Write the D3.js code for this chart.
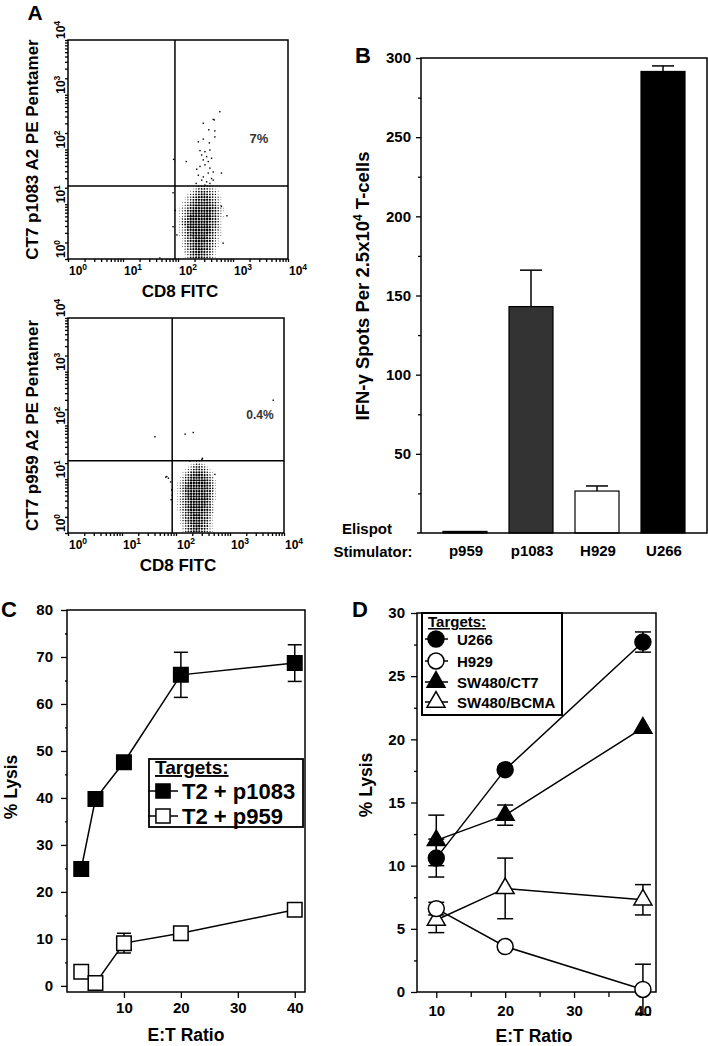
<!DOCTYPE html>
<html>
<head>
<meta charset="utf-8">
<script src="https://cdn.jsdelivr.net/npm/d3@7"></script>
<style>
body{margin:0;background:#fff}
text{font-family:"Liberation Sans",Arial,sans-serif;font-weight:bold}
</style>
</head>
<body>
<div id="fig"></div>
<script>
// ---- panel A : pentamer flow plots (log10 units) ----
const densityCols = [1.98,2.03,2.08,2.13,2.18,2.23,2.28,2.33,2.38,2.43,2.48,2.53,2.58,2.63,2.68,2.73,2.78,2.83];
const densityRows = [1.33,1.28,1.23,1.18,1.13,1.08,1.03,0.98,0.93,0.88,0.83,0.78,0.73,0.68,0.63,0.58,0.53,0.48,0.43,0.38,0.33,0.28,0.23,0.18,0.13,0.08,0.03];
const p1083Density = [
  "000000013443210000","000000124554321000","000001245665432100","000012356776543100",
  "000123567887643210","000124678898754210","001235789999865310","001246899999875320",
  "012357899999986421","012468999999986421","012468999999976420","012479999999976421",
  "013579999999976410","013589999999876410","013589999999875310","012489999999865310",
  "012478999999864310","012478999999864210","012468999998753210","001357899998753200",
  "001357899998752100","001356899987642100","001246899987642100","000246789987631000",
  "000235789876531000","000135789876421000","000125678765421000"];
const p1083Scatter = [[2.76,2.69],[2.64,2.55],[2.66,2.54],[2.46,2.48],[2.56,2.36],[2.67,2.34],[2.67,2.23],
  [2.37,2.14],[2.46,2.19],[2.57,2.12],[2.40,1.98],[2.49,1.96],[2.58,1.99],[1.92,1.82],[2.15,1.78],
  [2.43,1.90],[2.52,1.87],[2.61,1.84],[2.46,1.81],[2.55,1.78],[2.34,1.64],[2.40,1.69],[2.49,1.72],
  [2.58,1.66],[2.64,1.59],[2.79,1.57],[2.37,1.53],[2.46,1.50],[2.55,1.57],[2.61,1.47],[2.43,1.44],
  [2.52,1.41],[2.64,1.44],[2.33,1.38],[2.49,1.35],[2.58,1.38],[1.91,1.21],[1.95,0.89],[1.91,0.59],
  [1.98,0.44],[2.89,0.79],[2.82,0.29],[2.79,0.96],[1.67,0.02]];
const p959Density = [
  "000000012100000000","000000124321000000","000001245543100000","000012356654210000",
  "000123578875421000","000135789987531000","001246899998642000","001357999999753100",
  "012468999999864100","012479999999864100","012479999999864100","012479999999874100",
  "012479999999863100","012479999999863100","012468999999853100","012468999999852000",
  "012468999999752000","012468999998752000","012468999998752000","001357999998642000",
  "001357899987641000","001357899987641000","001357899987531000","001246899986531000",
  "000246789986521000","000246789876421000","000135678765321000"];
const p959Scatter = [[1.61,1.79],[2.17,1.84],[2.32,1.87],[3.80,2.47],[1.81,1.04],[2.72,1.09],
  [2.48,1.37],[2.26,1.34],[1.90,0.95],[1.92,0.80],[1.91,0.62],[1.93,0.70],[1.83,1.05],[1.86,1.02],[2.49,1.39]];
const decadeTicks = [0,1,2,3,4];

// ---- panel B : Elispot ----
const stimulators = ["p959","p1083","H929","U266"];
const spots = [1,143,26.5,291.5];
const spotsErr = [0,23,3.2,3.5];
const barColors = ["#444","#333","#fff","#000"];

// ---- panel C : lysis of T2 pulsed cells ----
const ratioC = [2.5,5,10,20,40];
const lysisP1083 = [24.9,39.8,47.6,66.2,68.7];
const errP1083 = [0,0,0,4.8,3.9];
const lysisP959 = [3.0,0.6,9.1,11.2,16.2];
const errP959 = [0,0,2.1,0,0];

// ---- panel D : lysis of tumour lines ----
const ratioD = [10,20,40];
const lysisU266 = [10.6,17.6,27.7];
const errU266 = [1.5,0,0.8];
const lysisH929 = [6.6,3.6,0.2];
const errH929 = [0.5,0,2.0];
const lysisCT7 = [12.0,14.0,20.9];
const errCT7 = [2.0,0.8,0];
const lysisBCMA = [5.7,8.2,7.3];
const errBCMA = [1.0,2.4,1.2];

const W = 708, H = 1046;
const svg = d3.select('#fig').append('svg').attr('width', W).attr('height', H);

function label(x, y, txt, size, anchor){
    return svg.append('text').attr('x', x).attr('y', y).attr('font-size', size)
        .attr('text-anchor', anchor || 'middle').text(txt);
}
function vlabel(x, y, txt, size){
    return svg.append('text').attr('transform', `translate(${x},${y}) rotate(-90)`)
        .attr('font-size', size).attr('text-anchor', 'middle').text(txt);
}
function styleAxis(sel, size){
    sel.select('.domain').remove();
    sel.selectAll('line').attr('stroke', '#000').attr('stroke-width', 1.3);
    sel.selectAll('text').style('font-size', size + 'px').attr('fill', '#000');
}

//flow plot
function flowPanel(c){
    const x = d3.scaleLog().domain([1, 1e4]).range([c.x0, c.x1]);
    const y = d3.scaleLog().domain([1, 1e4]).range([c.y1, c.y0]);
    const g = svg.append('g');

    c.density.forEach((row, ri) => {
        row.split('').forEach((ch, ci) => {
            const d = +ch;
            if (!d) return;
            g.append('circle')
                .attr('cx', x(Math.pow(10, densityCols[ci])))
                .attr('cy', y(Math.pow(10, densityRows[ri])))
                .attr('r', 1.2 * Math.sqrt(d / 9))
                .attr('fill', '#000');
        });
    });
    g.selectAll('rect.pt').data(c.scatter).enter().append('rect')
        .attr('x', d => x(Math.pow(10, d[0])) - 0.7)
        .attr('y', d => y(Math.pow(10, d[1])) - 0.7)
        .attr('width', 1.4).attr('height', 1.4).attr('fill', '#000');

    // minor log ticks
    const minor = [];
    for (let p = 0; p < 4; p++) for (let k = 1; k < 10; k++) minor.push(k * Math.pow(10, p));
    minor.push(1e4);
    g.append('g').attr('transform', `translate(0,${c.y1})`)
        .call(d3.axisBottom(x).tickValues(minor).tickSize(3).tickFormat(''))
        .call(s => styleAxis(s, 10));
    g.append('g').attr('transform', `translate(${c.x0},0)`)
        .call(d3.axisLeft(y).tickValues(minor).tickSize(3).tickFormat(''))
        .call(s => styleAxis(s, 10));

    g.append('rect').attr('x', c.x0).attr('y', c.y0)
        .attr('width', c.x1 - c.x0).attr('height', c.y1 - c.y0)
        .attr('fill', 'none').attr('stroke', '#000').attr('stroke-width', 1.5);
    g.append('line').attr('x1', x(c.gateX)).attr('x2', x(c.gateX)).attr('y1', c.y0).attr('y2', c.y1)
        .attr('stroke', '#000').attr('stroke-width', 1.5);
    g.append('line').attr('x1', c.x0).attr('x2', c.x1).attr('y1', y(c.gateY)).attr('y2', y(c.gateY))
        .attr('stroke', '#000').attr('stroke-width', 1.5);

    // decade labels with superscripts
    decadeTicks.forEach(p => {
        const t = svg.append('text').attr('x', x(Math.pow(10, p)) + 1).attr('y', c.y1 + 16)
            .attr('font-size', 12).attr('text-anchor', 'start');
        t.append('tspan').text('10');
        t.append('tspan').attr('dy', -5).attr('font-size', 8.5).text(p);
        const v = svg.append('text')
            .attr('transform', `translate(${c.x0 - 3},${y(Math.pow(10, p)) - 1}) rotate(-90)`)
            .attr('font-size', 12).attr('text-anchor', 'start');
        v.append('tspan').text('10');
        v.append('tspan').attr('dy', -5).attr('font-size', 8.5).text(p);
    });

    label((c.x0 + c.x1) / 2 + 2, c.y1 + 38, 'CD8 FITC', 17);
    vlabel(38, (c.y0 + c.y1) / 2, c.yTitle, 17);
    label(c.pctX, c.pctY, c.pct, c.pctSize).attr('fill', '#333')
        .attr('font-weight', c.pctBold ? 'bold' : 'normal');
}

flowPanel({x0: 68, x1: 288, y0: 40, y1: 259, gateX: 88, gateY: 21.5,
    density: p1083Density, scatter: p1083Scatter, yTitle: 'CT7 p1083 A2 PE Pentamer',
    pct: '7%', pctX: 259, pctY: 143, pctSize: 13, pctBold: true});
flowPanel({x0: 68, x1: 284, y0: 318, y1: 533, gateX: 85, gateY: 22,
    density: p959Density, scatter: p959Scatter, yTitle: 'CT7 p959 A2 PE Pentamer',
    pct: '0.4%', pctX: 260, pctY: 419, pctSize: 12, pctBold: false});
label(35, 20, 'A', 21);

// ---- B ----
{
    const x = d3.scaleBand().domain(stimulators).range([421, 707]).paddingInner(1/3).paddingOuter(1/3);
    const y = d3.scaleLinear().domain([0, 300]).range([533, 58]);
    const g = svg.append('g');

    g.append('g').attr('transform', 'translate(421,0)')
        .call(d3.axisLeft(y).tickValues([25,75,125,175,225,275]).tickSize(3).tickFormat(''))
        .call(s => styleAxis(s, 10));
    g.append('g').attr('transform', 'translate(421,0)')
        .call(d3.axisLeft(y).tickValues([50,100,150,200,250,300]).tickSize(5).tickPadding(5))
        .call(s => styleAxis(s, 15));

    // error bars first
    stimulators.forEach((s, i) => {
        if (!spotsErr[i]) return;
        const cx = x(s) + x.bandwidth() / 2;
        g.append('line').attr('x1', cx).attr('x2', cx).attr('y1', y(spots[i])).attr('y2', y(spots[i] + spotsErr[i]))
            .attr('stroke', '#000').attr('stroke-width', 1.5);
        g.append('line').attr('x1', cx - 11).attr('x2', cx + 11)
            .attr('y1', y(spots[i] + spotsErr[i])).attr('y2', y(spots[i] + spotsErr[i]))
            .attr('stroke', '#000').attr('stroke-width', 1.5);
    });
    g.selectAll('rect.bar').data(stimulators).enter().append('rect')
        .attr('class', 'bar')
        .attr('x', d => x(d))
        .attr('y', (d, i) => y(spots[i]))
        .attr('width', x.bandwidth())
        .attr('height', (d, i) => y(0) - y(spots[i]))
        .attr('fill', (d, i) => barColors[i])
        .attr('stroke', '#000').attr('stroke-width', 1.2);

    g.append('path').attr('d', 'M421,533V58H707V533H417')
        .attr('fill', 'none').attr('stroke', '#000').attr('stroke-width', 1.5);

    stimulators.forEach(s => label(x(s) + x.bandwidth() / 2 + 1, 556, s, 15));
    label(367, 534, 'Elispot', 15);
    label(373, 557, 'Stimulator:', 15);

    const t = svg.append('text').attr('transform', 'translate(369,286) rotate(-90)')
        .attr('font-size', 18.5).attr('text-anchor', 'middle');
    t.append('tspan').text('IFN-γ Spots Per 2.5x10');
    t.append('tspan').attr('dy', -7).attr('font-size', 12).text('4');
    t.append('tspan').attr('dy', 7).text(' T-cells');
    label(363, 63, 'B', 22);
}

// shared line-chart helpers
function errorBars(g, x, y, xs, ys, es, cap){
    xs.forEach((v, i) => {
        if (!es[i]) return;
        const cx = x(v);
        g.append('line').attr('x1', cx).attr('x2', cx)
            .attr('y1', y(ys[i] - es[i])).attr('y2', y(ys[i] + es[i]))
            .attr('stroke', '#000').attr('stroke-width', 1.5);
        [ys[i] - es[i], ys[i] + es[i]].forEach(e => {
            g.append('line').attr('x1', cx - cap).attr('x2', cx + cap).attr('y1', y(e)).attr('y2', y(e))
                .attr('stroke', '#000').attr('stroke-width', 1.5);
        });
    });
}
function series(g, x, y, xs, ys){
    g.append('path').datum(xs.map((v, i) => [v, ys[i]]))
        .attr('d', d3.line().x(d => x(d[0])).y(d => y(d[1])))
        .attr('fill', 'none').attr('stroke', '#000').attr('stroke-width', 1.5);
}
function markers(g, x, y, xs, ys, sym, size, fill){
    g.selectAll(null).data(xs).enter().append('path')
        .attr('transform', (d, i) => `translate(${x(d)},${y(ys[i])})`)
        .attr('d', d3.symbol(sym, size))
        .attr('fill', fill).attr('stroke', '#000').attr('stroke-width', 1.5);
}

// ---- C ----
{
    const x = d3.scaleLinear().domain([0, 41.8]).range([67, 305]);
    const y = d3.scaleLinear().domain([-1.3, 80]).range([992, 610]);
    const g = svg.append('g');

    g.append('g').attr('transform', 'translate(67,0)')
        .call(d3.axisLeft(y).tickValues([5,15,25,35,45,55,65,75]).tickSize(2).tickFormat(''))
        .call(s => styleAxis(s, 10));
    g.append('g').attr('transform', 'translate(67,0)')
        .call(d3.axisLeft(y).tickValues([0,10,20,30,40,50,60,70,80]).tickSize(6).tickPadding(8))
        .call(s => styleAxis(s, 15));
    g.append('g').attr('transform', 'translate(0,992)')
        .call(d3.axisBottom(x).tickValues([10,20,30,40]).tickSize(6).tickPadding(4))
        .call(s => styleAxis(s, 15));
    g.append('rect').attr('x', 67).attr('y', 610).attr('width', 238).attr('height', 382)
        .attr('fill', 'none').attr('stroke', '#000').attr('stroke-width', 1.5);

    series(g, x, y, ratioC, lysisP1083);
    series(g, x, y, ratioC, lysisP959);
    errorBars(g, x, y, ratioC, lysisP1083, errP1083, 7);
    errorBars(g, x, y, ratioC, lysisP959, errP959, 7);
    markers(g, x, y, ratioC, lysisP1083, d3.symbolSquare, 210, '#000');
    markers(g, x, y, ratioC, lysisP959, d3.symbolSquare, 210, '#fff');

    // legend
    g.append('rect').attr('x', 149).attr('y', 759).attr('width', 154).attr('height', 68)
        .attr('fill', '#fff').attr('stroke', '#000').attr('stroke-width', 1.8);
    label(155, 774, 'Targets:', 19, 'start').attr('text-decoration', 'underline');
    [[791, '#000', 'T2 + p1083'], [816, '#fff', 'T2 + p959']].forEach(r => {
        g.append('line').attr('x1', 148).attr('x2', 178).attr('y1', r[0]).attr('y2', r[0])
            .attr('stroke', '#000').attr('stroke-width', 1.5);
        g.append('path').attr('transform', `translate(163,${r[0]})`).attr('d', d3.symbol(d3.symbolSquare, 200))
            .attr('fill', r[1]).attr('stroke', '#000').attr('stroke-width', 1.5);
        label(182, r[0] + 8, r[2], 22, 'start');
    });

    label(186, 1041, 'E:T Ratio', 17.5);
    vlabel(17, 787, '% Lysis', 17.5);
    label(9, 617, 'C', 22);
}

// ---- D ----
{
    const x = d3.scaleLinear().domain([7.2, 41.9]).range([417, 656]);
    const y = d3.scaleLinear().domain([0, 30]).range([992, 613]);
    const g = svg.append('g');

    g.append('g').attr('transform', 'translate(417,0)')
        .call(d3.axisLeft(y).tickValues([2.5,7.5,12.5,17.5,22.5,27.5]).tickSize(3).tickFormat(''))
        .call(s => styleAxis(s, 10));
    g.append('g').attr('transform', 'translate(417,0)')
        .call(d3.axisLeft(y).tickValues([0,5,10,15,20,25,30]).tickSize(6).tickPadding(6))
        .call(s => styleAxis(s, 15));
    g.append('g').attr('transform', 'translate(0,992)')
        .call(d3.axisBottom(x).tickValues([15,25,35]).tickSize(5).tickFormat(''))
        .call(s => styleAxis(s, 10));
    g.append('g').attr('transform', 'translate(0,992)')
        .call(d3.axisBottom(x).tickValues([10,20,30,40]).tickSize(6).tickPadding(7))
        .call(s => styleAxis(s, 15));
    g.append('rect').attr('x', 417).attr('y', 613).attr('width', 239).attr('height', 379)
        .attr('fill', 'none').attr('stroke', '#000').attr('stroke-width', 1.5);

    [lysisU266, lysisH929, lysisCT7, lysisBCMA].forEach(s => series(g, x, y, ratioD, s));
    errorBars(g, x, y, ratioD, lysisU266, errU266, 8);
    errorBars(g, x, y, ratioD, lysisH929, errH929, 8);
    errorBars(g, x, y, ratioD, lysisCT7, errCT7, 8);
    errorBars(g, x, y, ratioD, lysisBCMA, errBCMA, 8);
    markers(g, x, y, ratioD, lysisBCMA, d3.symbolTriangle, 140, '#fff');
    markers(g, x, y, ratioD, lysisH929, d3.symbolCircle, 200, '#fff');
    markers(g, x, y, ratioD, lysisU266, d3.symbolCircle, 200, '#000');
    markers(g, x, y, ratioD, lysisCT7, d3.symbolTriangle, 140, '#000');

    // legend
    g.append('rect').attr('x', 422).attr('y', 613).attr('width', 140).attr('height', 102)
        .attr('fill', '#fff').attr('stroke', '#000').attr('stroke-width', 2);
    label(428, 627, 'Targets:', 15, 'start').attr('text-decoration', 'underline');
    [[639, d3.symbolCircle, 200, '#000', 'U266'],
     [661, d3.symbolCircle, 200, '#fff', 'H929'],
     [682, d3.symbolTriangle, 140, '#000', 'SW480/CT7'],
     [702, d3.symbolTriangle, 140, '#fff', 'SW480/BCMA']].forEach(r => {
        g.append('line').attr('x1', 425).attr('x2', 448).attr('y1', r[0]).attr('y2', r[0])
            .attr('stroke', '#000').attr('stroke-width', 1.5);
        g.append('path').attr('transform', `translate(436,${r[0]})`).attr('d', d3.symbol(r[1], r[2]))
            .attr('fill', r[3]).attr('stroke', '#000').attr('stroke-width', 1.5);
        label(457, r[0] + 5.5, r[4], 15, 'start');
    });

    label(534, 1042, 'E:T Ratio', 17.5);
    vlabel(372, 785, '% Lysis', 17.5);
    label(360, 617, 'D', 22);
}
</script>
</body>
</html>
